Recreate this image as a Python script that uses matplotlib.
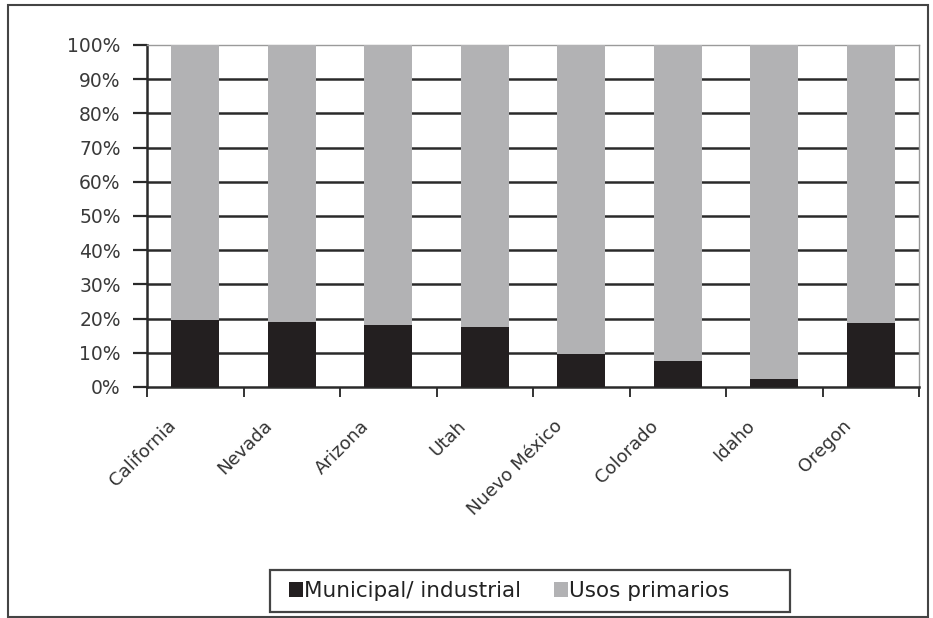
import numpy as np
import matplotlib.pyplot as plt
from matplotlib.patches import Rectangle
from matplotlib.transforms import ScaledTranslation

# data
states = ["California", "Nevada", "Arizona", "Utah", "Nuevo México",
          "Colorado", "Idaho", "Oregon"]
municipal = [19.6, 19.0, 18.0, 17.5, 9.6, 7.6, 2.3, 18.7]
primarios = [100 - v for v in municipal]

fig = plt.figure(figsize=(9.33, 6.18), dpi=100)
ax = fig.add_axes([0.1576, 0.3738, 0.8274, 0.5534])

x = np.arange(len(states))
ax.bar(x, municipal, width=0.5, color="#231f20", label="Municipal/ industrial", zorder=3)
ax.bar(x, primarios, width=0.5, bottom=municipal, color="#b2b2b4",
       label="Usos primarios", zorder=3)

ax.set_xlim(-0.5, len(states) - 0.5)
ax.set_ylim(0, 100)
ax.set_yticks(np.arange(0, 101, 10))
ax.set_yticklabels([f"{v}%" for v in range(0, 101, 10)], fontsize=13.5, color="#3a3a3a")
ax.yaxis.grid(True, color="#2a2a2a", linewidth=1.8, zorder=0)
ax.get_ygridlines()[-1].set_visible(False)
ax.get_ygridlines()[0].set_visible(False)

ax.set_xticks(x)
ax.set_xticklabels(states, rotation=45, ha="right", va="center",
                   rotation_mode="anchor", fontsize=13, color="#333333")
ax.tick_params(axis="x", length=0, pad=0)
off = ScaledTranslation(-22 / 100, -36 / 100, fig.dpi_scale_trans)
for lab in ax.get_xticklabels():
    lab.set_transform(lab.get_transform() + off)
ax.set_xticks(np.arange(-0.5, len(states)), minor=True)
ax.tick_params(axis="x", which="minor", length=7, width=1.4, color="#333333")
ax.tick_params(axis="y", length=10, width=1.6, color="#2a2a2a", pad=9)

for s in ["top", "right"]:
    ax.spines[s].set_color("#9a9a9a")
    ax.spines[s].set_linewidth(1.0)
for s in ["left", "bottom"]:
    ax.spines[s].set_color("#2a2a2a")
    ax.spines[s].set_linewidth(1.8)

# legend (frame drawn separately, Excel style with wide right padding)
leg = fig.legend(loc="center left", bbox_to_anchor=(0.2894, 0.0437), ncol=2,
                 frameon=False, fontsize=15.5, handlelength=0.65, handleheight=0.65,
                 handletextpad=0.05, columnspacing=1.5, borderpad=0.4)
for t in leg.get_texts():
    t.set_color("#222222")
fig.patches.append(Rectangle((0.2894, 0.0097), 0.557, 0.068, transform=fig.transFigure,
                             fill=False, edgecolor="#444444", linewidth=1.6))

fig.patches.append(Rectangle((0.0086, 0.0016), 0.9861, 0.990, transform=fig.transFigure,
                             fill=False, edgecolor="#444444", linewidth=1.5))

fig.savefig("out.png", dpi=100)
